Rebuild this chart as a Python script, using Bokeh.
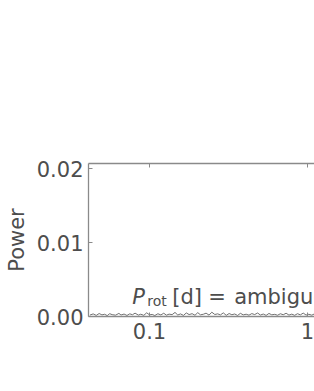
from bokeh.plotting import figure
from bokeh.models import Range1d, FixedTicker, LogAxis, Label, PrintfTickFormatter
from bokeh.embed import file_html
from bokeh.resources import INLINE

# ---- data ----
period = [0.042, 0.044, 0.046, 0.048, 0.050, 0.052, 0.054, 0.056, 0.058, 0.061,
          0.064, 0.066, 0.069, 0.072, 0.075, 0.078, 0.081, 0.085, 0.088, 0.092,
          0.096, 0.100, 0.104, 0.108, 0.113, 0.118, 0.123, 0.128, 0.133, 0.139,
          0.145, 0.151, 0.157, 0.164, 0.171, 0.178, 0.186, 0.194, 0.202, 0.210,
          0.219, 0.228, 0.238, 0.248, 0.259, 0.270, 0.281, 0.293, 0.306, 0.319,
          0.332, 0.346, 0.361, 0.376, 0.392, 0.409, 0.426, 0.444, 0.463, 0.483,
          0.503, 0.525, 0.547, 0.570, 0.594, 0.620, 0.646, 0.673, 0.702, 0.732,
          0.763, 0.795, 0.829, 0.864, 0.901, 0.939, 0.979, 1.020, 1.064, 1.105]
power = [0.00020, 0.00035, 0.00015, 0.00040, 0.00022, 0.00030, 0.00012, 0.00038, 0.00025, 0.00018,
         0.00042, 0.00020, 0.00033, 0.00014, 0.00036, 0.00024, 0.00045, 0.00019, 0.00031, 0.00016,
         0.00050, 0.00022, 0.00028, 0.00013, 0.00037, 0.00021, 0.00044, 0.00018, 0.00032, 0.00025,
         0.00055, 0.00020, 0.00035, 0.00015, 0.00048, 0.00026, 0.00038, 0.00017, 0.00052, 0.00023,
         0.00030, 0.00045, 0.00019, 0.00058, 0.00027, 0.00036, 0.00021, 0.00049, 0.00016, 0.00040,
         0.00024, 0.00034, 0.00014, 0.00043, 0.00022, 0.00031, 0.00018, 0.00039, 0.00026, 0.00047,
         0.00020, 0.00033, 0.00015, 0.00041, 0.00023, 0.00029, 0.00017, 0.00037, 0.00024, 0.00044,
         0.00019, 0.00032, 0.00016, 0.00038, 0.00022, 0.00046, 0.00020, 0.00030, 0.00018, 0.00035]
x_ticks = [0.1, 1]
x_tick_labels = ["0.1", "1"]
y_ticks = [0.0, 0.01, 0.02]

FONT = "DejaVu Sans"
TXT = "#4d4d4d"
AX = "#8a8a8a"

p = figure(width=314, height=356, x_axis_type="log",
           x_range=Range1d(0.0411, 1.107), y_range=Range1d(0, 0.02068),
           output_backend="svg", toolbar_location=None,
           min_border_left=88, min_border_right=0, min_border_top=163, min_border_bottom=40)
p.outline_line_color = None
p.grid.visible = False
p.background_fill_color = "white"

p.line(period, power, line_color="#707070", line_width=1)

# bottom axis
xa = p.xaxis[0]
xa.ticker = FixedTicker(ticks=x_ticks)
xa.major_label_overrides = {t: l for t, l in zip(x_ticks, x_tick_labels)}
# left axis
ya = p.yaxis[0]
ya.ticker = FixedTicker(ticks=y_ticks)
ya.formatter = PrintfTickFormatter(format="%.2f")
ya.axis_label = "Power"
ya.axis_label_standoff = 5
ya.axis_label_text_font = FONT
ya.axis_label_text_font_size = "21px"
ya.axis_label_text_font_style = "normal"
ya.axis_label_text_color = TXT

for ax in (xa, ya):
    ax.axis_line_color = AX
    ax.axis_line_width = 1.3
    ax.major_tick_line_color = AX
    ax.major_tick_in = 4
    ax.major_tick_out = 0
    ax.minor_tick_line_color = None
    ax.major_label_text_font = FONT
    ax.major_label_text_font_size = "21px"
    ax.major_label_text_color = TXT
xa.major_label_standoff = 6
ya.major_label_standoff = 5

# top axis (ticks only)
top = LogAxis(ticker=FixedTicker(ticks=x_ticks), axis_line_color=AX, axis_line_width=1.3,
              major_tick_line_color=AX, major_tick_in=4, major_tick_out=0,
              minor_tick_line_color=None, major_label_text_color=None,
              major_label_text_font_size="1px", major_label_standoff=0)
p.add_layout(top, "above")

# annotation: P_rot [d] = ambiguous
px, py = 0.0777, 0.0027
p.add_layout(Label(x=px, y=py, text="P", text_font=FONT, text_font_size="21px",
                   text_font_style="italic", text_color=TXT, text_baseline="alphabetic"))
p.add_layout(Label(x=px, y=0.00203, x_offset=15, text="rot", text_font=FONT,
                   text_font_size="14px", text_color=TXT, text_baseline="alphabetic"))
p.add_layout(Label(x=px, y=py, x_offset=40, text="[d]", text_font=FONT,
                   text_font_size="21px", text_color=TXT, text_baseline="alphabetic"))
p.add_layout(Label(x=px, y=py, x_offset=76, text="=", text_font=FONT,
                   text_font_size="21px", text_color=TXT, text_baseline="alphabetic"))
p.add_layout(Label(x=px, y=py, x_offset=102, text="ambiguous", text_font=FONT,
                   text_font_size="21px", text_color=TXT, text_baseline="alphabetic"))

open("out.html", "w").write(file_html(p, INLINE))
